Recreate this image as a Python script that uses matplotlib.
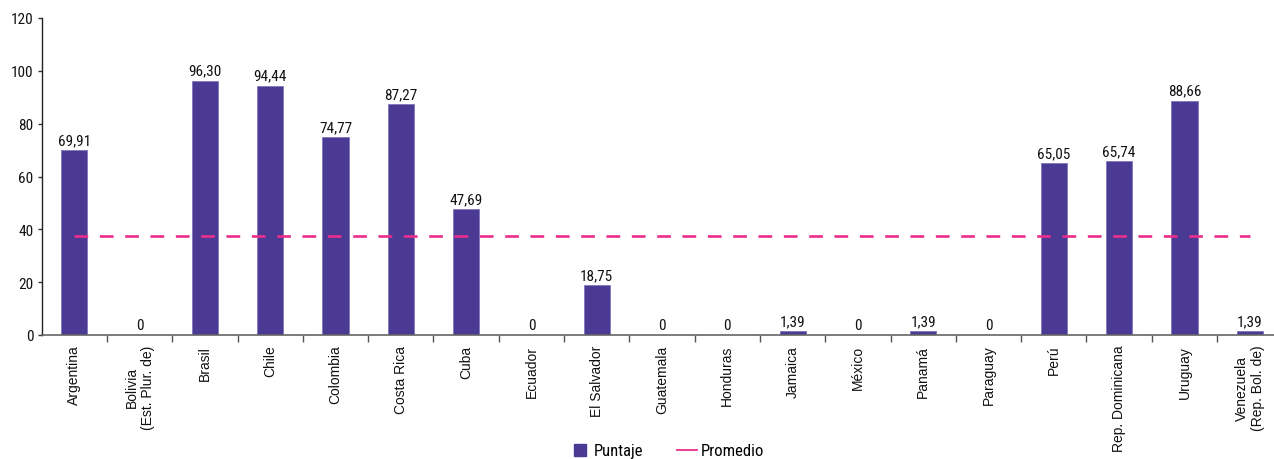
import matplotlib
matplotlib.use("Agg")
import matplotlib.pyplot as plt
from matplotlib.lines import Line2D
from matplotlib.ticker import FixedLocator, NullFormatter
from matplotlib import font_manager

# Data
paises = [
    "Argentina", "Bolivia\n(Est. Plur. de)", "Brasil", "Chile", "Colombia",
    "Costa Rica", "Cuba", "Ecuador", "El Salvador", "Guatemala", "Honduras",
    "Jamaica", "México", "Panamá", "Paraguay", "Perú", "Rep. Dominicana",
    "Uruguay", "Venezuela\n(Rep. Bol. de)",
]
puntaje = [69.91, 0, 96.30, 94.44, 74.77, 87.27, 47.69, 0, 18.75, 0, 0,
           1.39, 0, 1.39, 0, 65.05, 65.74, 88.66, 1.39]
promedio = 37.51
y_ticks = [0, 20, 40, 60, 80, 100, 120]

BAR_COLOR = "#4a3a94"
LINE_COLOR = "#ec2d8c"

names = {f.name for f in font_manager.fontManager.ttflist}
NARROW = "Roboto Condensed" if "Roboto Condensed" in names else "DejaVu Sans"
REGULAR = "Liberation Sans"

W, H = 1274, 460
fig = plt.figure(figsize=(W / 100, H / 100), dpi=100)
left_px, right_px = 41.7, 41.7 + 19 * 65.3
bottom_px, top_px = 336, 19
ax = fig.add_axes([left_px / W, (H - bottom_px) / H,
                   (right_px - left_px) / W, (bottom_px - top_px) / H])

x = list(range(len(paises)))
ax.bar(x, puntaje, width=0.4, color=BAR_COLOR, edgecolor="#8075bb",
       linewidth=0.6, zorder=2)
ax.plot([x[0], x[-1]], [promedio, promedio], color=LINE_COLOR, lw=1.9,
        dashes=(5.2, 4.4), zorder=3)

for xi, v in zip(x, puntaje):
    txt = "0" if v == 0 else f"{v:.2f}".replace(".", ",")
    ax.text(xi, v + 1.2, txt, ha="center", va="bottom", fontsize=11,
            family=NARROW, color="#111111")

ax.set_xlim(-0.5, len(paises) - 0.5)
ax.set_ylim(0, 120)
ax.set_yticks(y_ticks)
ax.set_yticklabels([str(t) for t in y_ticks], family=NARROW, fontsize=11,
                   color="#111111")
ax.tick_params(axis="y", length=3, width=1, color="#333333", pad=3)

ax.set_xticks(x)
ax.set_xticklabels(paises, rotation=90, family=REGULAR, fontsize=10,
                   va="top", ha="center", multialignment="center",
                   color="#111111")
ax.tick_params(axis="x", which="major", length=0, pad=7)
ax.xaxis.set_minor_locator(FixedLocator([i + 0.5 for i in x]))
ax.xaxis.set_minor_formatter(NullFormatter())
ax.tick_params(axis="x", which="minor", length=5, width=1, color="#555555")

for s in ("top", "right"):
    ax.spines[s].set_visible(False)
ax.spines["left"].set_color("#222222")
ax.spines["bottom"].set_color("#666666")
ax.spines["left"].set_linewidth(1)
ax.spines["bottom"].set_linewidth(1.2)

handles = [Line2D([], [], ls="", marker="s", ms=8.6, color=BAR_COLOR),
           Line2D([], [], color=LINE_COLOR, lw=1.3)]
fig.legend(handles, ["Puntaje", "Promedio"], loc="center",
           bbox_to_anchor=(667 / W, 1 - 452 / H), ncol=2, frameon=False,
           prop={"family": NARROW, "size": 12}, handlelength=1.2,
           columnspacing=2.0, handletextpad=0.25, borderpad=0.1)

fig.savefig("out.png", dpi=100)
